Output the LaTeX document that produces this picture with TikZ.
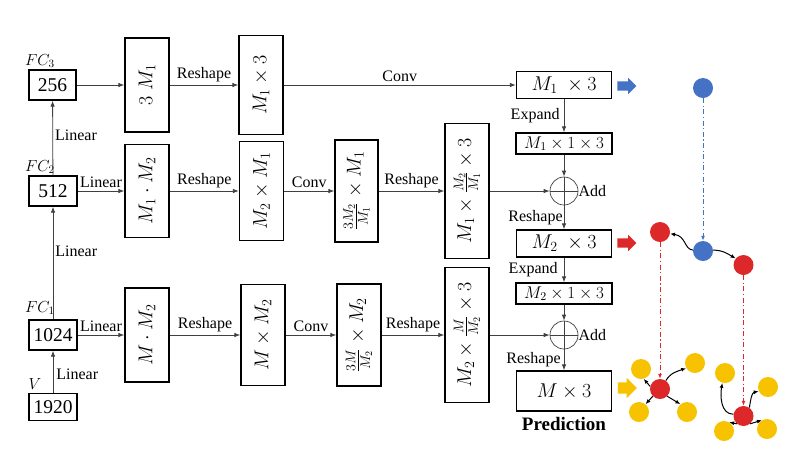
\RequirePackage{fix-cm}
\documentclass[tikz,border=0pt]{standalone}
\usepackage{fontspec}
\setmainfont{Liberation Serif}
\usetikzlibrary{arrows.meta,shapes.arrows}
\definecolor{cblue}{HTML}{4472C4}
\definecolor{cred}{HTML}{DC2828}
\definecolor{cyel}{HTML}{F7C300}
\definecolor{cline}{HTML}{404040}
\tikzset{
  box/.style={draw=black, line width=1.3pt, inner sep=0pt, align=center},
  numbox/.style={box, minimum width=48pt, minimum height=30pt, font=\fontsize{19.5}{20}\selectfont},
  vbox/.style={box, minimum width=44pt, font=\fontsize{20}{22}\selectfont},
  hbox/.style={box, minimum width=95pt, minimum height=27pt, font=\fontsize{20}{22}\selectfont},
  sbox/.style={box, minimum width=96pt, minimum height=21pt, font=\fontsize{17}{18}\selectfont},
  lbl/.style={font=\fontsize{16}{18}\selectfont, inner sep=0pt, text=black},
  fclbl/.style={font=\fontsize{16}{17}\selectfont, inner sep=0pt},
  conn/.style={draw=cline, line width=0.8pt, -{Latex[length=6pt,width=4.5pt]}},
  addc/.style={circle, draw=cline, line width=0.7pt, minimum size=28pt, inner sep=0pt,
     path picture={\draw[cline, line width=0.7pt] (path picture bounding box.north) -- (path picture bounding box.south) (path picture bounding box.west) -- (path picture bounding box.east);}},
  dot/.style={circle, fill=#1, minimum size=20pt, inner sep=0pt},
  ddash/.style={line width=1pt, dash pattern=on 5pt off 2.5pt on 1.2pt off 2.5pt, -{Latex[length=5pt,width=4pt]}},
  carr/.style={draw=black, line width=1pt, -{Latex[length=5pt,width=4pt]}},
  fat/.style={single arrow, fill=#1, draw=none, minimum height=19pt, inner xsep=0pt, inner ysep=4.5pt, single arrow head extend=3.5pt},
}
\begin{document}
\begin{tikzpicture}[x=1pt,y=-1pt]
\useasboundingbox (0,0) rectangle (802,456);

% left column
\node[numbox, minimum width=47pt] (n256) at (52.5,85) {256};
\node[numbox] (n512) at (53,191) {512};
\node[numbox] (n1024) at (53,335) {1024};
\node[numbox, minimum height=27pt] (n1920) at (53,407) {1920};
\node[fclbl] (fc3) at (40,61) {$FC_3$};
\node[fclbl] (fc2) at (40,167) {$FC_2$};
\node[fclbl] (fc1) at (40,308) {$FC_1$};
\node[fclbl] (vv) at (35,384) {$V$};

% column 2
\node[vbox, minimum height=94pt] (a1) at (147,85) {\rotatebox{90}{$3\;M_1$}};
\node[vbox, minimum height=93pt] (b1) at (147,191) {\rotatebox{90}{$M_1\cdot M_2$}};
\node[vbox, minimum height=94pt] (d1) at (147,335) {\rotatebox{90}{$M\cdot M_2$}};
% column 3
\node[vbox, minimum height=99pt] (c1) at (261,85) {\rotatebox{90}{$M_1\times 3$}};
\node[vbox, minimum height=99pt] (b2) at (261.5,191) {\rotatebox{90}{$M_2\times M_1$}};
\node[vbox, minimum height=101pt] (d2) at (263,335) {\rotatebox{90}{$M\times M_2$}};
% column 4
\node[vbox, minimum height=102pt, minimum width=43pt] (b3) at (356.5,191) {\rotatebox{90}{$\frac{3M_2}{M_1}\times M_1$}};
\node[vbox, minimum height=102pt] (d3) at (359,335) {\rotatebox{90}{$\frac{3M}{M_2}\times M_2$}};
% column 5
\node[vbox, minimum height=135pt] (b4) at (467,191) {\rotatebox{90}{$M_1\times\frac{M_2}{M_1}\times 3$}};
\node[vbox, minimum height=135pt] (d4) at (467,335) {\rotatebox{90}{$M_2\times\frac{M}{M_2}\times 3$}};
% column 6
\node[hbox] (f1) at (564,85) {$M_1\ \times 3$};
\node[sbox] (s1) at (564,143.5) {$M_1\times 1\times 3$};
\node[addc] (add1) at (564,191) {};
\node[hbox] (f2) at (564,243.5) {$M_2\ \times 3$};
\node[sbox] (s2) at (564,293.5) {$M_2\times 1\times 3$};
\node[addc] (add2) at (564,335) {};
\node[hbox, minimum height=40pt] (f3) at (564,391) {$M\times 3$};
\node[font=\bfseries\fontsize{19}{20}\selectfont, inner sep=0pt] (pred) at (564,424) {Prediction};
\node[lbl, anchor=west] (ladd1) at (add1.east) {Add};
\node[lbl, anchor=west] (ladd2) at (add2.east) {Add};

% left vertical
\draw[conn] (n1920) -- node[lbl, right=3pt, pos=0.45] (lv1) {Linear} (n1024);
\draw[conn] (n1024) -- node[lbl, right=2pt, pos=0.6] (lv2) {Linear} (n512);
\draw[conn] (n512) -- node[lbl, right=2pt, pos=0.53] (lv3) {Linear} (n256);

% row 1
\draw[conn] (n256) -- (a1);
\draw[conn] (a1) -- node[lbl, above=3pt] (lr1) {Reshape} (c1);
\draw[conn] (c1) -- node[lbl, above=3pt] (lc1) {Conv} (f1);
% row 2
\draw[conn] (n512) -- node[lbl, above=3pt] (lh2) {Linear} (b1);
\draw[conn] (b1) -- node[lbl, above=3pt] (lr2) {Reshape} (b2);
\draw[conn] (b2) -- node[lbl, above=3pt] (lc2) {Conv} (b3);
\draw[conn] (b3) -- node[lbl, above=3pt] (lr2b) {Reshape} (b4);
\draw[conn] (b4) -- (add1);
% row 3
\draw[conn] (n1024) -- node[lbl, above=3pt] (lh3) {Linear} (d1);
\draw[conn] (d1) -- node[lbl, above=3pt] (lr3) {Reshape} (d2);
\draw[conn] (d2) -- node[lbl, above=3pt] (lc3) {Conv} (d3);
\draw[conn] (d3) -- node[lbl, above=3pt] (lr3b) {Reshape} (d4);
\draw[conn] (d4) -- (add2);
% column 6 vertical
\draw[conn] (f1) -- node[lbl, left=4pt] (le1) {Expand} (s1);
\draw[conn] (s1) -- (add1);
\draw[conn] (add1) -- node[lbl, left=1pt] (lrs1) {Reshape} (f2);
\draw[conn] (f2) -- node[lbl, left=6pt] (le2) {Expand} (s2);
\draw[conn] (s2) -- (add2);
\draw[conn] (add2) -- node[lbl, left=3pt] (lrs2) {Reshape} (f3);

% fat arrows
\node[fat=cblue] (fa1) at (624.5,86) {};
\node[fat=cred] (fa2) at (624.5,243) {};
\node[fat=cyel, inner ysep=5.5pt, single arrow head extend=4.5pt] (fa3) at (624.5,388) {};

% right graph
\node[dot=cblue] (bt) at (703,88) {};
\node[dot=cblue] (bb) at (703,251) {};
\node[dot=cred] (rl) at (660,232) {};
\node[dot=cred] (rr) at (743.5,265) {};
\node[dot=cyel] (y1) at (641,369) {};
\node[dot=cyel] (y2) at (695,363) {};
\node[dot=cyel] (y3) at (639,412) {};
\node[dot=cyel] (y4) at (687,412) {};
\node[dot=cyel] (y5) at (725,373) {};
\node[dot=cyel] (y6) at (768,387) {};
\node[dot=cyel] (y7) at (724,431) {};
\node[dot=cyel] (y8) at (767,429) {};
\node[dot=cred] (rc1) at (660,389) {};
\node[dot=cred] (rc2) at (743.5,416) {};

\draw[ddash, cblue] (bt) -- (bb);
\draw[ddash, cred] (rl) -- (rc1);
\draw[ddash, cred] (rr) -- (rc2);
\draw[carr] (bb.175) .. controls (684,249) and (686,236) .. (rl.-10);
\draw[carr] (bb.5) to[out=0, in=150] (rr.140);
\draw[carr] (rc1.165) -- (y1.-75);
\draw[carr] (rc1.55) to[out=60, in=200] (y2.-150);
\draw[carr] (rc1.225) -- (y3.50);
\draw[carr] (rc1.-45) -- (y4.130);
\draw[carr] (rc2.170) to[out=180, in=-100] (y5.-105);
\draw[carr] (rc2.55) to[out=80, in=190] (y6.-155);
\draw[carr] (rc2.230) -- (y7.60);
\draw[carr] (rc2.-50) -- (y8.120);
\end{tikzpicture}
\end{document}
